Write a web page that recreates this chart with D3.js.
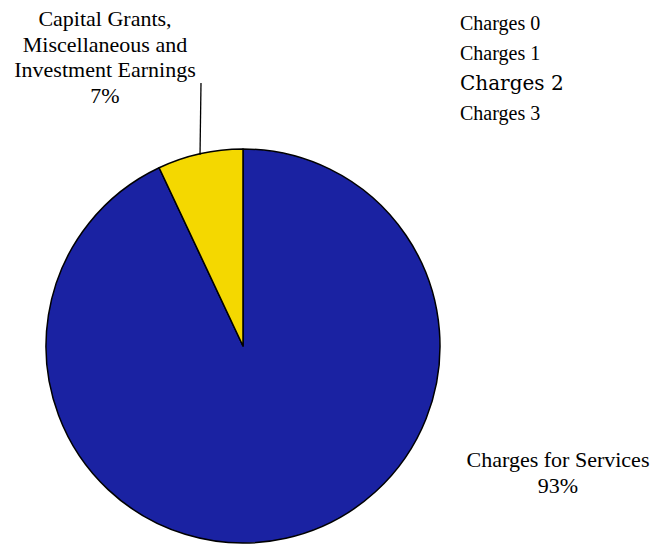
<!DOCTYPE html>
<html>
<head>
<meta charset="utf-8">
<script src="https://cdn.jsdelivr.net/npm/d3@7"></script>
<style>
  html, body { margin: 0; padding: 0; background: #ffffff; }
  svg { display: block; }
</style>
</head>
<body>
<svg id="c" width="653" height="546"></svg>
<script>
const categories = ["Charges for Services", "Capital Grants, Miscellaneous and Investment Earnings"];
const values = [93, 7];
const labelLines = [
  ["Charges for Services", "93%"],
  ["Capital Grants,", "Miscellaneous and", "Investment Earnings", "7%"]
];
const colors = ["#1a22a2", "#f4d800"];

const svg = d3.select("#c");
const cx = 243, cy = 346, r = 197;

const pie = d3.pie().sort(null).value(d => d)(values);
const arc = d3.arc().innerRadius(0).outerRadius(r);

const g = svg.append("g").attr("transform", `translate(${cx},${cy})`);
g.selectAll("path")
  .data(pie)
  .join("path")
  .attr("d", arc)
  .attr("fill", (d, i) => colors[i])
  .attr("stroke", "#000")
  .attr("stroke-width", 1.5)
  .attr("stroke-linejoin", "round");

const fontSize = 23.5;
const lineH = 25.5;
const labelPos = [
  { x: 558, y: 467 },
  { x: 105, y: 26 }
];
labelLines.forEach((lines, i) => {
  const t = svg.append("text")
    .attr("text-anchor", "middle")
    .attr("font-size", 22)
    .style("font-family", "Liberation Serif");
  lines.forEach((ln, j) => {
    t.append("tspan")
      .attr("x", labelPos[i].x)
      .attr("y", labelPos[i].y + j * lineH)
      .text(ln);
  });
});

// diagnostic rows
["serif", "Liberation Serif", "DejaVu Serif", "Tinos"].forEach((f, i) => {
  svg.append("text").attr("x", 460).attr("y", 30 + i * 30).attr("font-size", 20)
    .style("font-family", f).text("Charges " + i);
});

const small = pie[1];
const midA = (small.startAngle + small.endAngle) / 2;
svg.append("line")
  .attr("x1", 201).attr("y1", 83)
  .attr("x2", cx + r * Math.sin(midA)).attr("y2", cy - r * Math.cos(midA) + 1)
  .attr("stroke", "#000")
  .attr("stroke-width", 1.3);
</script>
</body>
</html>
